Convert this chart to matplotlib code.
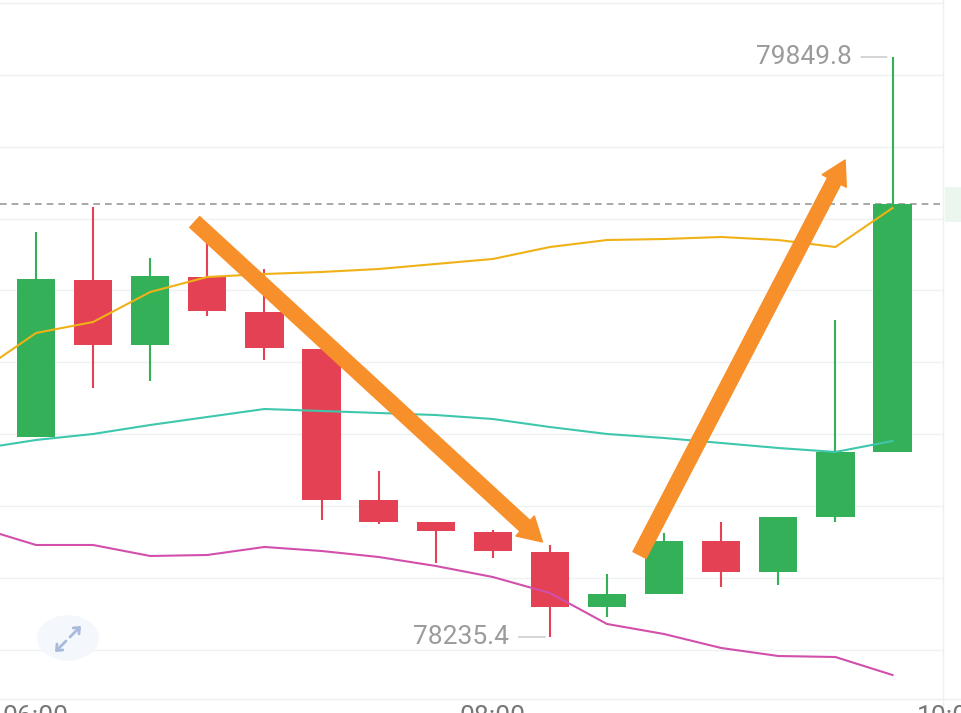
import matplotlib.pyplot as plt
from matplotlib.patches import Rectangle, Circle
import numpy as np

# 15 min candles, OHLC
opens  = [78792.1, 79229.1, 79048.2, 79237.5, 79140.1, 79037.1, 78616.8, 78555.5,
          78527.7, 78472.0, 78318.9, 78355.1, 78502.6, 78416.4, 78569.5, 78750.4]
highs  = [79362.7, 79432.3, 79290.3, 79332.1, 79259.7, 79037.1, 78697.5, 78555.5,
          78533.3, 78491.5, 78410.8, 78524.9, 78555.5, 78569.5, 79117.8, 79849.8]
lows   = [78792.1, 78928.5, 78948.0, 79129.0, 79006.4, 78561.1, 78550.0, 78441.4,
          78455.3, 78235.4, 78291.0, 78355.1, 78374.6, 78380.1, 78555.5, 78750.4]
closes = [79231.9, 79048.2, 79240.2, 79142.9, 79039.8, 78616.8, 78555.5, 78530.5,
          78474.8, 78318.9, 78355.1, 78502.6, 78416.4, 78569.5, 78750.4, 79440.6]

# moving averages, first value belongs to the candle just left of the view
ma_fast = [78972.0, 79081.6, 79112.2, 79195.7, 79237.5, 79245.8, 79251.4, 79259.7, 79273.7,
           79287.6, 79320.9, 79340.4, 79343.2, 79348.8, 79340.4, 79320.9, 79429.5]
ma_mid  = [78759.0, 78783.8, 78800.5, 78825.5, 78847.8, 78870.0, 78864.5, 78858.9, 78853.3,
           78842.2, 78819.9, 78800.5, 78789.3, 78775.4, 78761.5, 78750.4, 78781.0]
ma_low  = [78540.0, 78491.5, 78491.5, 78460.9, 78463.7, 78486.0, 78474.8, 78458.1, 78433.1,
           78402.4, 78357.9, 78271.6, 78243.7, 78204.8, 78182.5, 78179.7, 78129.6]

time_labels = ['06:00', '08:00', '10:00']
time_pos = [0, 8, 16]

last_price = 79440.6
# hand drawn trend arrows (tail, tip) in (candle index, price)
arrows = [((2.78, 79390.5), (8.87, 78500.0)),
          ((10.57, 78463.7), (14.17, 79563.1))]

GREEN = '#34b058'
RED = '#e44254'
ORANGE = '#f7902b'

W, H = 961, 713
fig = plt.figure(figsize=(W / 100, H / 100), dpi=100)
ax = fig.add_axes([0, 14 / H, 943 / W, 699 / H])

px = 57.1          # pixels per candle
ppx = 2.78345      # price per pixel

idx = np.arange(len(opens))
for i in idx:
    o, h, l, c = opens[i], highs[i], lows[i], closes[i]
    col = GREEN if c >= o else RED
    ax.plot([i, i], [l, h], color=col, lw=1.5, zorder=2, solid_capstyle='butt')
    bottom = min(o, c)
    ax.add_patch(Rectangle((i - 0.335, bottom), 0.67, max(abs(c - o), 4),
                           facecolor=col, edgecolor='none', zorder=3))

xm = np.arange(-1, len(opens))
ax.plot(xm, ma_fast, color='#efb116', lw=1.5, zorder=4)
ax.plot(xm, ma_mid, color='#3ec7ad', lw=1.5, zorder=4)
ax.plot(xm, ma_low, color='#d24fab', lw=1.5, zorder=4)

ax.axhline(last_price, color='#9a9a9a', lw=1.2, ls=(0, (4, 3)), zorder=1)

for tail, tip in arrows:
    ax.annotate('', xy=tip, xytext=tail, zorder=6,
                arrowprops=dict(arrowstyle='simple,head_length=0.85,head_width=0.98,tail_width=0.53',
                                mutation_scale=20, color=ORANGE, shrinkA=0, shrinkB=0))

# high / low labels
hi = int(np.argmax(highs))
lo = int(np.argmin(lows))
ax.annotate(f'{highs[hi]:.1f}', xy=(hi - 0.1, highs[hi]), xytext=(hi - 0.72, highs[hi]),
            ha='right', va='center', fontsize=19, color='#9b9b9b', family='Roboto',
            arrowprops=dict(arrowstyle='-', color='#c4c4c4', lw=1, shrinkA=5, shrinkB=0))
ax.annotate(f'{lows[lo]:.1f}', xy=(lo - 0.08, lows[lo]), xytext=(lo - 0.72, lows[lo]),
            ha='right', va='center', fontsize=19, color='#9b9b9b', family='Roboto',
            arrowprops=dict(arrowstyle='-', color='#c4c4c4', lw=1, shrinkA=5, shrinkB=0))

ax.set_yticks(np.arange(78000, 80001, 200))
ax.set_xticks([])
ax.set_xlim(-36 / px, -36 / px + 943 / px)
ax.set_ylim(79849.8 - 642 * ppx, 79849.8 + 57 * ppx)
ax.grid(axis='y', color='#eef0f2', lw=1)
ax.tick_params(left=False, labelleft=False, bottom=False)
for s in ['top', 'left', 'bottom']:
    ax.spines[s].set_visible(False)
ax.spines['right'].set_color('#eef0f2')
ax.set_axisbelow(True)

# bottom axis line and time labels (cut by the lower edge, as in the screenshot)
fig.add_artist(plt.Line2D([0, 1], [1 - 699 / H, 1 - 699 / H], color='#eceef0', lw=1))
fig.add_artist(plt.Line2D([943 / W, 943 / W], [0, 1], color='#eef0f2', lw=1))
for lab, p in zip(time_labels, time_pos):
    xf = (36 + p * px) / W
    fig.text(xf, 1 - 705 / H, lab, ha='center', va='top', fontsize=19, color='#777777',
             family='Roboto')

# last price tag on the right axis
fig.add_artist(Rectangle((945 / W, 1 - 222 / H), 16 / W, 35 / H, transform=fig.transFigure,
                         facecolor='#eaf6ee', edgecolor='none'))

# expand icon
fig.add_artist(Circle((68 / W, 1 - 638 / H), 0.032, transform=fig.transFigure,
                      facecolor='#f4f7fc', edgecolor='none'))
for tl, tp in [((70, 637), (81, 626)), ((66, 641), (55, 652))]:
    fig.add_artist(plt.annotate('', xy=(tp[0] / W, 1 - tp[1] / H), xycoords='figure fraction',
                                xytext=(tl[0] / W, 1 - tl[1] / H), textcoords='figure fraction',
                                arrowprops=dict(arrowstyle='->,head_length=0.35,head_width=0.3',
                                                color='#a9badc', lw=2, shrinkA=0, shrinkB=0)))

fig.savefig('out.png', dpi=100)
